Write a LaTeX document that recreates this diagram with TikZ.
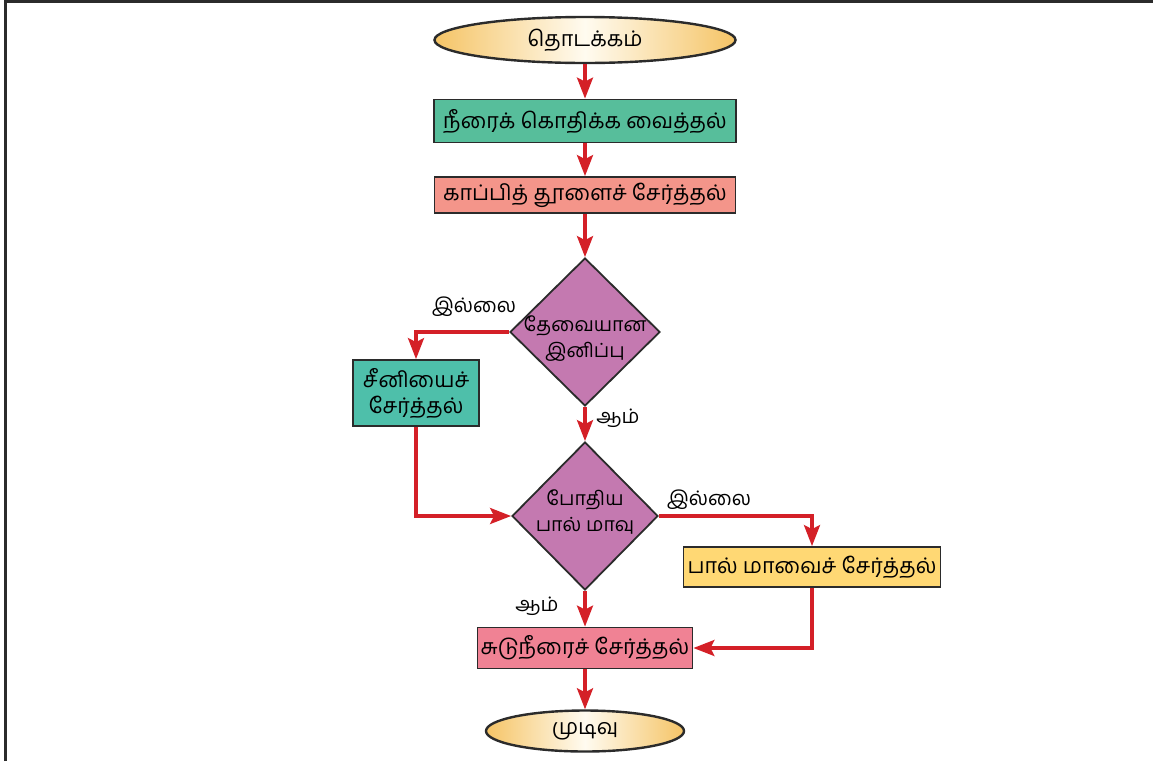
\documentclass[tikz,border=0pt]{standalone}
\usepackage{fontspec}
\newfontfamily\tamil[Script=Tamil]{Hind Madurai}
\usetikzlibrary{shapes.geometric,arrows.meta}
\definecolor{arrowred}{HTML}{D42027}
\definecolor{edge}{HTML}{2B2B2B}
\definecolor{boxgreen}{HTML}{57BE9B}
\definecolor{boxsalmon}{HTML}{F4958A}
\definecolor{dmauve}{HTML}{C479B0}
\definecolor{boxteal}{HTML}{4EBFAA}
\definecolor{boxyellow}{HTML}{FFD874}
\definecolor{boxpink}{HTML}{F08294}
\definecolor{ellout}{HTML}{F5C466}
\definecolor{ellin}{HTML}{FFFBF0}
\tikzset{
  base/.style={draw=edge, line width=1.8pt, font=\tamil\fontsize{21.5}{26}\selectfont, text=black, inner sep=0pt, align=center},
  term/.style={base, ellipse, line width=2.4pt, left color=ellout, right color=ellout, middle color=ellin},
  procbox/.style={base, rectangle},
  decide/.style={base, diamond, fill=dmauve},
  dtext/.style={font=\tamil\fontsize{19.5}{26}\selectfont, align=center, inner sep=0pt, text=black},
  flow/.style={draw=arrowred, line width=3.4pt, -{Stealth[length=21pt,width=16pt,inset=4pt]}},
  lbl/.style={font=\tamil\fontsize{20}{24}\selectfont, inner sep=0pt}
}
\begin{document}
\begin{tikzpicture}[x=1pt,y=-1pt]
\useasboundingbox (0,0) rectangle (1153,761);
% frame
\draw[edge, line width=3pt] (5.5,761) -- (5.5,1.5) -- (1153,1.5);
% nodes
\node[term, minimum width=301, minimum height=46] (start) at (585,40) {தொடக்கம்};
\node[procbox, fill=boxgreen, minimum width=302, minimum height=43] (b1) at (585,121) {நீரைக் கொதிக்க வைத்தல்};
\node[procbox, fill=boxsalmon, minimum width=301, minimum height=36] (b2) at (585,195) {காப்பித் தூளைச் சேர்த்தல்};
\node[decide, minimum width=150, minimum height=148] (d1) at (585,332) {};
\node[dtext] (d1t) at (585,339) {தேவையான\\இனிப்பு};
\node[procbox, fill=boxteal, minimum width=126, minimum height=66] (sugar) at (416,393) {சீனியைச்\\சேர்த்தல்};
\node[decide, minimum width=146, minimum height=148] (d2) at (585,516) {};
\node[dtext] (d2t) at (585,512) {போதிய\\பால் மாவு};
\node[procbox, fill=boxyellow, minimum width=257, minimum height=40] (milk) at (812,567) {பால் மாவைச் சேர்த்தல்};
\node[procbox, fill=boxpink, minimum width=215, minimum height=41] (water) at (585,648) {சுடுநீரைச் சேர்த்தல்};
\node[term, minimum width=198, minimum height=41] (stop) at (585,731) {முடிவு};
% labels
\node[lbl] (no1) at (474,307) {இல்லை};
\node[lbl] (yes1) at (618,418) {ஆம்};
\node[lbl] (no2) at (709,500) {இல்லை};
\node[lbl] (yes2) at (537,606) {ஆம்};
% connectors
\draw[flow] (start.south) -- (b1.north);
\draw[flow] (b1.south) -- (b2.north);
\draw[flow] (b2.south) -- (d1.north);
\draw[flow] (d1.south) -- (d2.north);
\draw[flow] (d1.west) -| (sugar.north);
\draw[flow] (sugar.south) |- (d2.west);
\draw[flow] (d2.east) -| (milk.north);
\draw[flow] (d2.south) -- (water.north);
\draw[flow] (milk.south) |- (water.east);
\draw[flow] (water.south) -- (stop.north);
\end{tikzpicture}
\end{document}
